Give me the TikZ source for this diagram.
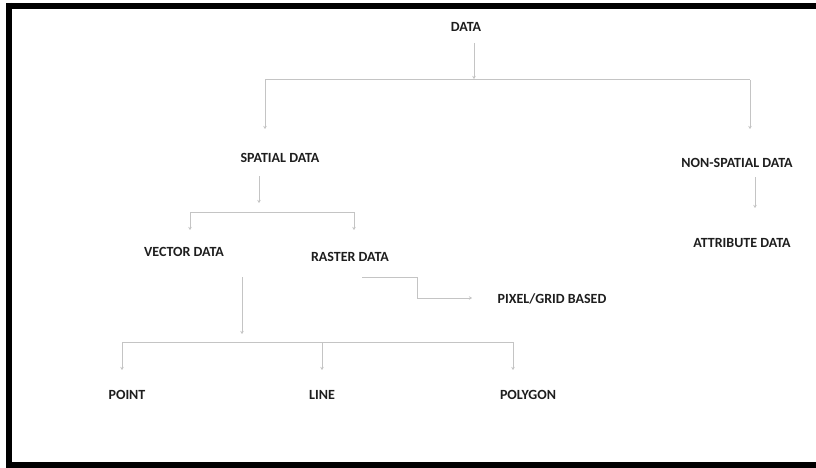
\documentclass[tikz,border=0pt]{standalone}
\usepackage{fontspec}
\setmainfont{Carlito}
\usetikzlibrary{arrows.meta}
\definecolor{lgray}{HTML}{C4C4C4}
\definecolor{txt}{HTML}{1E1E1E}
\tikzset{
  lbl/.style={font=\bfseries\fontsize{14}{16}\selectfont, text=txt, inner sep=0pt},
  ln/.style={draw=lgray, line width=1pt},
  arr/.style={ln, -{Stealth[length=3pt,width=3.5pt]}},
  frame/.style={draw=black, line width=6pt}
}
\begin{document}
\begin{tikzpicture}[x=1pt,y=-1pt]
\useasboundingbox (0,0) rectangle (816,468);
\fill[white] (0,0) rectangle (816,468);
% frame
\coordinate (fTL) at (9,6);
\coordinate (fTR) at (816,6);
\coordinate (fBL) at (9,465);
\coordinate (fBR) at (816,465);
\coordinate (fL0) at (9,3);
\coordinate (fL1) at (9,468);
\draw[frame] (fL0) -- (fL1);
\draw[frame] (fTL) -- (fTR);
\draw[frame] (fBL) -- (fBR);
% labels
\node[lbl] (data)    at (466,27)  {DATA};
\node[lbl] (spatial) at (280,158) {SPATIAL DATA};
\node[lbl] (nonsp)   at (737,163) {NON-SPATIAL DATA};
\node[lbl] (vector)  at (184,252) {VECTOR DATA};
\node[lbl] (raster)  at (350,257) {RASTER DATA};
\node[lbl] (attr)    at (742,243) {ATTRIBUTE DATA};
\node[lbl] (pixel)   at (552,299) {PIXEL/GRID BASED};
\node[lbl] (point)   at (127,395) {POINT};
\node[lbl] (line)    at (322,395) {LINE};
\node[lbl] (polygon) at (528,395) {POLYGON};
% DATA branch
\coordinate (d0) at (474,43);
\coordinate (d1) at (474,79);
\coordinate (dL) at (265,80);
\coordinate (dR) at (750,80);
\coordinate (dL2) at (265,129);
\coordinate (dR2) at (750,129);
\draw[arr] (d0) -- (d1);
\draw[ln] (dL) -- (dR);
\draw[arr] (dL) -- (dL2);
\draw[arr] (dR) -- (dR2);
% SPATIAL branch
\coordinate (s0) at (259,176);
\coordinate (s1) at (259,203);
\coordinate (sL) at (190,212);
\coordinate (sR) at (354,212);
\coordinate (sL2) at (190,230);
\coordinate (sR2) at (354,230);
\draw[arr] (s0) -- (s1);
\draw[ln] (sL) -- (sR);
\draw[arr] (sL) -- (sL2);
\draw[arr] (sR) -- (sR2);
% NON-SPATIAL branch
\coordinate (n0) at (755,177);
\coordinate (n1) at (755,208);
\draw[arr] (n0) -- (n1);
% RASTER elbow
\coordinate (r0) at (362,277);
\coordinate (r1) at (417,277);
\coordinate (r2) at (417,298);
\coordinate (r3) at (472,298);
\draw[arr] (r0) -- (r1) -- (r2) -- (r3);
% VECTOR branch
\coordinate (v0) at (242,277);
\coordinate (v1) at (242,334);
\coordinate (vL) at (122,342);
\coordinate (vM) at (322,342);
\coordinate (vR) at (513,342);
\coordinate (vL2) at (122,370);
\coordinate (vM2) at (322,370);
\coordinate (vR2) at (513,370);
\draw[arr] (v0) -- (v1);
\draw[ln] (vL) -- (vR);
\draw[arr] (vL) -- (vL2);
\draw[arr] (vM) -- (vM2);
\draw[arr] (vR) -- (vR2);
\end{tikzpicture}
\end{document}
